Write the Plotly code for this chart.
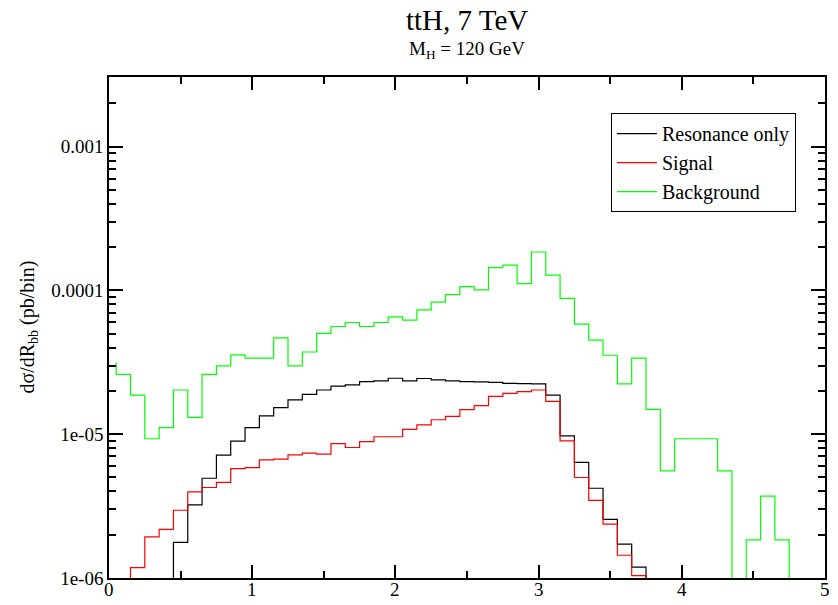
import plotly.graph_objects as go

# bin centres (R_bb)
x_bins = [round(0.1 * k, 1) for k in range(49)]

resonance_only = [0, 0, 0, 0, 0,
                  1.77e-6, 3.23e-6, 4.94e-6, 7.15e-6, 8.94e-6,
                  1.11e-5, 1.34e-5, 1.53e-5, 1.73e-5, 1.89e-5,
                  2.03e-5, 2.16e-5, 2.20e-5, 2.32e-5, 2.35e-5,
                  2.45e-5, 2.35e-5, 2.44e-5, 2.39e-5, 2.35e-5,
                  2.32e-5, 2.31e-5, 2.29e-5, 2.26e-5, 2.25e-5,
                  2.24e-5, 1.87e-5, 9.75e-6, 6.36e-6, 4.21e-6,
                  2.56e-6, 1.72e-6, 1.19e-6, 0, 0,
                  0, 0, 0, 0, 0, 0, 0, 0, 0]

signal = [0, 0, 1.18e-6, 1.93e-6, 2.18e-6,
          2.96e-6, 3.97e-6, 4.26e-6, 4.62e-6, 5.77e-6,
          5.86e-6, 6.62e-6, 6.70e-6, 7.18e-6, 7.38e-6,
          7.26e-6, 8.61e-6, 8.08e-6, 8.89e-6, 9.6e-6,
          9.6e-6, 1.08e-5, 1.16e-5, 1.26e-5, 1.33e-5,
          1.48e-5, 1.58e-5, 1.83e-5, 1.92e-5, 1.98e-5,
          2.03e-5, 1.69e-5, 8.98e-6, 5.0e-6, 3.47e-6,
          2.37e-6, 1.44e-6, 1.04e-6, 0, 0,
          0, 0, 0, 0, 0, 0, 0, 0, 0]

background = [3.15e-5, 2.61e-5, 1.87e-5, 9.3e-6, 1.11e-5,
              2.03e-5, 1.31e-5, 2.61e-5, 2.99e-5, 3.56e-5,
              3.38e-5, 3.38e-5, 4.68e-5, 2.99e-5, 3.73e-5,
              5.03e-5, 5.61e-5, 5.98e-5, 5.61e-5, 5.98e-5,
              6.55e-5, 6.21e-5, 7.31e-5, 8.28e-5, 9.36e-5,
              1.064e-4, 1.007e-4, 1.44e-4, 1.50e-4, 1.116e-4,
              1.85e-4, 1.276e-4, 8.8e-5, 5.82e-5, 4.51e-5,
              3.54e-5, 2.24e-5, 3.38e-5, 1.49e-5, 5.56e-6,
              9.3e-6, 9.3e-6, 9.3e-6, 5.56e-6, 0,
              1.84e-6, 3.71e-6, 1.84e-6, 0]

x_tick_vals = [0, 1, 2, 3, 4, 5]
x_tick_text = ["0", "1", "2", "3", "4", "5"]
y_tick_vals = [1e-6, 1e-5, 1e-4, 1e-3]
y_tick_text = ["1e-06", "1e-05", "0.0001", "0.001"]

FONT = "Liberation Serif"


def center_steps(x, v, floor=1e-9):
    """Grace-style 'step centre' line: vertical jumps at midpoints."""
    vals = [val if val > 0 else floor for val in v]
    mids = [(x[i] + x[i + 1]) / 2 for i in range(len(x) - 1)]
    xs = mids + [mids[-1]]
    return xs, vals


fig = go.Figure()
series = [("Resonance only", resonance_only, "#000000"),
          ("Signal", signal, "#ff0000"),
          ("Background", background, "#00ff00")]
for name, vals, col in series:
    xs, ys = center_steps(x_bins, vals)
    fig.add_trace(go.Scatter(x=xs, y=ys, mode="lines", name=name,
                             line=dict(color=col, width=1.2, shape="vh")))

minor_x = [0.5, 1.5, 2.5, 3.5, 4.5]
minor_y = [k * 10 ** d for d in range(-6, -2) for k in range(2, 10)]

# x tick labels placed as annotations just below the axis
x_label_annots = [dict(text=t, x=v, xref="x", y=-0.023, yref="paper",
                       xanchor="center", yanchor="middle", showarrow=False,
                       font=dict(family=FONT, size=19, color="black"))
                  for v, t in zip(x_tick_vals, x_tick_text)]

fig.update_layout(
    width=838, height=605,
    margin=dict(l=109, r=13, t=77, b=27, autoexpand=False),
    paper_bgcolor="white", plot_bgcolor="white",
    font=dict(family=FONT, size=19, color="black"),
    showlegend=True,
    legend=dict(x=0.701, y=0.928, xanchor="left", yanchor="top",
                bgcolor="white", bordercolor="black", borderwidth=1,
                font=dict(family=FONT, size=20, color="black"),
                itemwidth=40, tracegroupgap=0),
    xaxis=dict(range=[0, 5], showline=True, linecolor="black", linewidth=1.5,
               mirror="ticks", ticks="inside", ticklen=13, tickwidth=1.5,
               tickcolor="black", tickvals=x_tick_vals, showticklabels=False,
               showgrid=False, zeroline=False, automargin=False,
               minor=dict(tickvals=minor_x, ticks="inside", ticklen=7,
                          tickwidth=1.5, tickcolor="black", showgrid=False)),
    yaxis=dict(type="log", range=[-6, -2.516], showline=True, linecolor="black",
               linewidth=1.5, mirror="ticks", ticks="inside", ticklen=14,
               tickwidth=1.5, tickcolor="black", tickvals=y_tick_vals,
               ticktext=y_tick_text, showgrid=False, zeroline=False,
               automargin=False,
               tickfont=dict(family=FONT, size=19, color="black"),
               minor=dict(tickvals=minor_y, ticks="inside", ticklen=7,
                          tickwidth=1.5, tickcolor="black", showgrid=False)),
    annotations=[
        dict(text="ttH, 7 TeV", x=0.5, y=1.114, xref="paper", yref="paper",
             xanchor="center", yanchor="middle", showarrow=False,
             font=dict(family=FONT, size=29, color="black")),
        dict(text="M<sub>H</sub> = 120 GeV", x=0.5, y=1.054, xref="paper",
             yref="paper", xanchor="center", yanchor="middle", showarrow=False,
             font=dict(family=FONT, size=19, color="black")),
        dict(text="dσ/dR<sub>bb</sub> (pb/bin)", x=-0.113, y=0.5,
             xref="paper", yref="paper", xanchor="center", yanchor="middle",
             textangle=-90, showarrow=False,
             font=dict(family=FONT, size=20, color="black")),
    ] + x_label_annots,
)

fig.write_html("out.html")
